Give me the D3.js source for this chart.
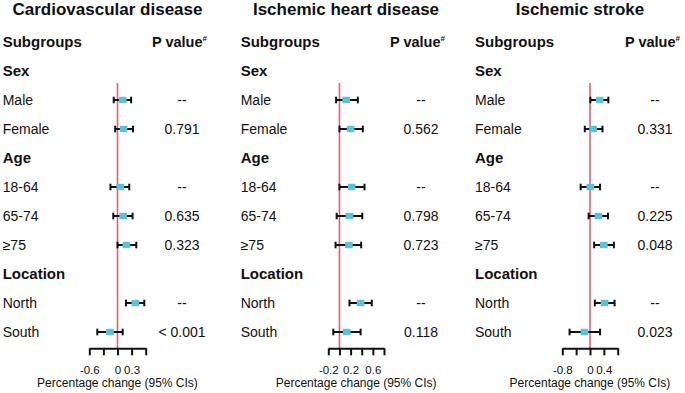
<!DOCTYPE html>
<html>
<head>
<meta charset="utf-8">
<script src="https://cdn.jsdelivr.net/npm/d3@7"></script>
<style>
  html, body { margin: 0; padding: 0; background: #fff; }
  svg { display: block; font-family: "Liberation Sans", Arial, sans-serif; }
</style>
</head>
<body>
<svg id="chart" width="685" height="393"></svg>
<script>
// --- data ---
const panelTitles = ["Cardiovascular disease", "Ischemic heart disease", "Ischemic stroke"];
const groups = ["Sex", "Age", "Location"];
const groupMembers = [["Male", "Female"], ["18-64", "65-74", "≥75"], ["North", "South"]];

const cvdEst  = [0.11, 0.13, 0.06, 0.12, 0.19, 0.38, -0.16];
const cvdLow  = [-0.08, -0.05, -0.15, -0.09, 0.00, 0.18, -0.43];
const cvdHigh = [0.29, 0.33, 0.25, 0.32, 0.40, 0.57, 0.11];
const cvdP    = ["--", "0.791", "--", "0.635", "0.323", "--", "< 0.001"];

const ihdEst  = [0.12, 0.20, 0.22, 0.18, 0.17, 0.38, 0.13];
const ihdLow  = [-0.06, 0.00, 0.00, -0.05, -0.07, 0.18, -0.11];
const ihdHigh = [0.33, 0.42, 0.45, 0.41, 0.39, 0.58, 0.38];
const ihdP    = ["--", "0.562", "--", "0.798", "0.723", "--", "0.118"];

const isEst  = [0.28, 0.09, 0.01, 0.24, 0.40, 0.42, -0.16];
const isLow  = [0.01, -0.15, -0.27, -0.04, 0.12, 0.14, -0.59];
const isHigh = [0.53, 0.36, 0.29, 0.52, 0.69, 0.71, 0.29];
const isP    = ["--", "0.331", "--", "0.225", "0.048", "--", "0.023"];

const cvdTicks = [-0.6, -0.3, 0, 0.3, 0.6];
const cvdTickLabels = ["-0.6", "", "0", "0.3", ""];
const ihdTicks = [-0.2, 0, 0.2, 0.4, 0.6, 0.8];
const ihdTickLabels = ["-0.2", "", "0.2", "", "0.6", ""];
const isTicks = [-0.8, -0.4, 0, 0.4, 0.8];
const isTickLabels = ["-0.8", "", "0", "0.4", ""];

const xLabel = "Percentage change (95% CIs)";

// --- layout ---
const panels = [
  { title: panelTitles[0], est: cvdEst, low: cvdLow, high: cvdHigh, p: cvdP, ticks: cvdTicks, tickLabels: cvdTickLabels,
    left: 2.7, range: [89.3, 145.7], pHead: 152, pCol: 182, titleX: 107.5 },
  { title: panelTitles[1], est: ihdEst, low: ihdLow, high: ihdHigh, p: ihdP, ticks: ihdTicks, tickLabels: ihdTickLabels,
    left: 240.7, range: [328.3, 384], pHead: 390, pCol: 421, titleX: 346 },
  { title: panelTitles[2], est: isEst, low: isLow, high: isHigh, p: isP, ticks: isTicks, tickLabels: isTickLabels,
    left: 475, range: [562.3, 617.7], pHead: 625, pCol: 655, titleX: 580 }
];

// rows: header, then each group followed by its members
const rows = [{ key: "Subgroups", type: "head" }];
let k = 0;
groups.forEach((g, gi) => {
  rows.push({ key: g, type: "group" });
  groupMembers[gi].forEach(m => rows.push({ key: m, type: "item", idx: k++ }));
});

const y = d3.scalePoint().domain(rows.map(r => r.key)).range([42, 332]);
const axisY = 348.3;

const svg = d3.select("#chart");
const ink = "#111";
const boxColor = "#57c3dc";
const refColor = "#ef5a72";

panels.forEach(p => {
  const x = d3.scaleLinear().domain(d3.extent(p.ticks)).range(p.range);
  const g = svg.append("g");

  g.append("text").attr("x", p.titleX).attr("y", 15).attr("text-anchor", "middle")
    .attr("font-size", 17).attr("font-weight", "bold").attr("fill", ink).text(p.title);

  // row labels
  g.selectAll("text.row").data(rows).join("text").attr("class", "row")
    .attr("x", p.left)
    .attr("y", r => y(r.key) + (r.type === "item" ? 5 : 5.4))
    .attr("font-size", r => r.type === "item" ? 14 : 15)
    .attr("font-weight", r => r.type === "item" ? "normal" : "bold")
    .attr("fill", ink)
    .text(r => r.key);

  const ph = g.append("text").attr("x", p.pHead).attr("y", y("Subgroups") + 5.4)
    .attr("font-size", 14.5).attr("font-weight", "bold").attr("fill", ink);
  ph.append("tspan").text("P value");
  ph.append("tspan").attr("font-size", 8).attr("dy", -6).text("#");

  const items = rows.filter(r => r.type === "item");

  // p values
  g.selectAll("text.pv").data(items).join("text").attr("class", "pv")
    .attr("x", p.pCol).attr("y", r => y(r.key) + 5).attr("text-anchor", "middle")
    .attr("font-size", 14).attr("fill", ink).text(r => p.p[r.idx]);

  // reference line at zero
  g.append("line").attr("x1", x(0)).attr("x2", x(0)).attr("y1", 83).attr("y2", axisY)
    .attr("stroke", refColor).attr("stroke-width", 1.6);

  // error bars
  const eb = g.selectAll("g.eb").data(items).join("g").attr("class", "eb")
    .attr("transform", r => `translate(0,${y(r.key)})`);
  eb.append("line").attr("x1", r => x(p.low[r.idx])).attr("x2", r => x(p.high[r.idx]))
    .attr("stroke", ink).attr("stroke-width", 2);
  eb.append("line").attr("x1", r => x(p.low[r.idx])).attr("x2", r => x(p.low[r.idx]))
    .attr("y1", -3.3).attr("y2", 3.3).attr("stroke", ink).attr("stroke-width", 2);
  eb.append("line").attr("x1", r => x(p.high[r.idx])).attr("x2", r => x(p.high[r.idx]))
    .attr("y1", -3.3).attr("y2", 3.3).attr("stroke", ink).attr("stroke-width", 2);
  eb.append("rect").attr("x", r => x(p.est[r.idx]) - 3.8).attr("y", -3.2)
    .attr("width", 7.6).attr("height", 6.4).attr("fill", boxColor);

  // axis
  const axis = d3.axisBottom(x).tickValues(p.ticks).tickSizeInner(7).tickSizeOuter(0).tickPadding(10.5)
    .tickFormat((d, i) => p.tickLabels[i]);
  const ag = g.append("g").attr("transform", `translate(0,${axisY})`).call(axis);
  ag.select(".domain").attr("stroke", ink).attr("stroke-width", 2);
  ag.selectAll(".tick line").attr("stroke", ink).attr("stroke-width", 2);
  ag.selectAll(".tick text").attr("fill", ink).attr("font-size", 11.5)
    .attr("font-family", "Liberation Sans, Arial, sans-serif");

  g.append("text").attr("x", (p.range[0] + p.range[1]) / 2).attr("y", 387)
    .attr("text-anchor", "middle").attr("font-size", 12).attr("fill", ink).text(xLabel);
});
</script>
</body>
</html>
